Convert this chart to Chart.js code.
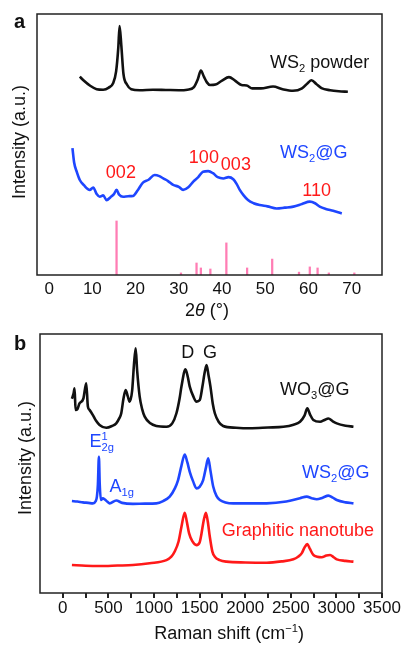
<!DOCTYPE html>
<html>
<head>
<meta charset="utf-8">
<script src="https://cdn.jsdelivr.net/npm/chart.js@4.4.1/dist/chart.umd.min.js"></script>
<style>
  html, body { margin: 0; padding: 0; background: #fff; }
  #wrapA { position: absolute; left: 0; top: 0; width: 404px; height: 322px; }
  #wrapB { position: absolute; left: 0; top: 322px; width: 404px; height: 323px; }
</style>
</head>
<body>
<div id="wrapA"><canvas id="xrdChart" width="404" height="322"></canvas></div>
<div id="wrapB"><canvas id="ramanChart" width="404" height="323"></canvas></div>
<script>
// ---- panel a: XRD ----
const powderAngle = [7.1, 8, 9.5, 11, 12.5, 13.8, 14.8, 15.5, 16, 16.3, 16.7, 17.2, 18, 19, 21, 24, 27, 30, 32, 33.5, 34.4, 35.1, 35.8, 36.5, 37.2, 38.5, 40, 41.6, 43, 44.5, 45.7, 47, 49, 51.8, 54, 56.4, 58.5, 59.8, 60.7, 61.8, 63, 65, 67, 69.1];
const powderInt = [76, 74.5, 72.5, 71.2, 71, 71.8, 73.5, 78, 87, 95.4, 88, 77, 73, 71.2, 70.8, 71, 70.9, 70.8, 71, 72, 75, 78.3, 76, 73.8, 72.8, 73, 74.5, 75.8, 74.5, 72.8, 72.6, 71.5, 71.5, 72.2, 71.2, 70.6, 71.5, 73.5, 74.6, 73.2, 71.6, 70.8, 70.4, 70.2];

const ws2gAngle = [5.4, 5.8, 6.4, 7.1, 8, 9.4, 10.2, 11, 11.7, 12.5, 13.3, 14.2, 15, 15.6, 16.2, 17.1, 18.3, 19.4, 20.5, 21.7, 23, 24.4, 25.5, 26.4, 27.5, 28.7, 30, 31, 32.2, 33.3, 34.5, 35.6, 36.8, 37.9, 39, 40.3, 41.5, 42.6, 43.4, 44.1, 45, 46, 47.3, 48.7, 50.5, 52.6, 54.5, 56.5, 58.5, 60.3, 61.5, 62.6, 64, 65.7, 67.7];
const ws2gInt = [48.6, 43, 39.5, 36.4, 34.5, 32.6, 33.5, 31, 30, 30.5, 28.7, 29.8, 31, 32.6, 30.8, 30, 30.2, 30.3, 32.5, 35.4, 36.5, 38.3, 37.9, 37, 36, 34.5, 33.8, 32.6, 33.6, 35.7, 37.5, 39.6, 39.8, 39, 37.5, 37, 37.5, 36.7, 34.8, 32.6, 30.5, 28.7, 27.5, 26.8, 26.3, 25.5, 25.8, 26.2, 27.2, 28.1, 27.5, 26.2, 25.3, 24.6, 23.6];

// reference pattern sticks
const refAngle = [15.6, 30.5, 34.1, 35.1, 37.3, 41.0, 45.8, 51.6, 57.8, 60.3, 62.1, 64.7, 70.6];
const refInt = [20.7, 0.8, 4.6, 2.7, 2.3, 12.3, 2.7, 6.1, 1.1, 3.1, 2.7, 0.8, 0.8];
const xrdTicks = [0, 10, 20, 30, 40, 50, 60, 70];

// ---- panel b: Raman ----
const wo3Shift = [100, 118, 129, 140, 160, 183, 225, 257, 275, 293, 330, 365, 403, 476, 540, 586, 620, 641, 665, 689, 712, 733, 760, 780, 799, 815, 843, 870, 898, 960, 1026, 1136, 1200, 1246, 1280, 1301, 1345, 1370, 1392, 1430, 1466, 1502, 1530, 1555, 1576, 1598, 1619, 1645, 1667, 1710, 1758, 1900, 2051, 2250, 2418, 2530, 2601, 2650, 2681, 2710, 2747, 2821, 2870, 2912, 2960, 3004, 3100, 3187];
const wo3Int = [75, 77, 79, 70.7, 71, 73.2, 75, 81, 72, 70.7, 68.7, 66.5, 64.9, 63.8, 64.5, 65.5, 67.5, 69.4, 75, 78.4, 76, 73.9, 78, 88, 94.5, 86, 75.8, 71, 68.1, 65.5, 64.5, 64.2, 65.5, 69.4, 75, 79.7, 86.4, 83.5, 79.7, 76, 73.9, 74.5, 79.5, 85, 88, 84, 79.7, 73, 69.4, 66, 64.5, 63.8, 63.6, 63.9, 64.2, 65, 66.1, 68.5, 71.3, 69, 66.8, 66.1, 66.8, 67.4, 66.3, 65.5, 64.6, 64.2];

const ws2Shift = [100, 160, 220, 280, 330, 360, 374, 385, 396, 405, 418, 440, 458, 490, 513, 586, 650, 769, 900, 1026, 1100, 1172, 1230, 1264, 1300, 1337, 1365, 1392, 1430, 1466, 1500, 1539, 1570, 1594, 1620, 1649, 1685, 1722, 1869, 2050, 2235, 2450, 2601, 2675, 2730, 2784, 2850, 2912, 2960, 3004, 3100, 3187];
const ws2Int = [35.5, 35.3, 35, 34.8, 34.6, 35.4, 37.2, 42, 52.6, 42, 35.9, 36.6, 36.2, 35.2, 34.6, 35.7, 34.8, 34.4, 34.5, 34.6, 35.5, 37.2, 40.5, 43.6, 49, 53.5, 50.5, 46.8, 43, 40.4, 41, 43.6, 48.5, 52, 47, 41.1, 37.5, 35.9, 34.6, 34.6, 34.6, 35.3, 36.6, 37.2, 36.6, 36.2, 36.8, 37.6, 36.8, 35.9, 35, 34.6];

const tubeShift = [100, 250, 403, 600, 769, 952, 1136, 1190, 1227, 1270, 1301, 1337, 1360, 1385, 1420, 1466, 1500, 1521, 1545, 1569, 1590, 1612, 1640, 1667, 1720, 1795, 2000, 2235, 2400, 2528, 2580, 2619, 2650, 2681, 2710, 2747, 2790, 2839, 2890, 2931, 2970, 3004, 3100, 3187];
const tubeInt = [10.8, 10.5, 10.4, 10.6, 10.8, 11.5, 12.7, 14, 16, 20, 25.6, 31, 27.5, 23, 20, 18.5, 19.5, 23, 28, 31, 27.5, 21.7, 16, 14, 12.7, 12.1, 11.8, 11.7, 12.2, 13, 14, 15.3, 17.5, 18.9, 17, 14.7, 14, 13.8, 14.5, 14.7, 13.8, 13, 12.4, 12.1];

// major ticks carry labels, minor ones are marks only
const ramanTicks = [0, 250, 500, 750, 1000, 1250, 1500, 1750, 2000, 2250, 2500, 2750, 3000, 3250, 3500];

const BLACK = '#111111';
const BLUE = 'rgb(30,70,255)';
const RED = 'rgb(255,25,25)';
const PINK = 'rgb(255,125,180)';
const FONT = "'Liberation Sans', Arial, sans-serif";

function pairs(xs, ys) {
    return xs.map((x, i) => ({ x: x, y: ys[i] }));
}

// draw text made of pieces: [text, kind] where kind is '', 'sub', 'sup' or 'supstack'
function drawRich(ctx, parts, x, y, size, color, align) {
    const small = size * 0.62;
    let total = 0;
    parts.forEach(([t, k]) => {
        ctx.font = (k ? small : size) + 'px ' + FONT;
        if (k !== 'supstack') total += ctx.measureText(t).width;
    });
    let cx = align === 'center' ? x - total / 2 : x;
    ctx.fillStyle = color;
    ctx.textAlign = 'left';
    ctx.textBaseline = 'middle';
    parts.forEach(([t, k]) => {
        ctx.font = (k ? small : size) + 'px ' + FONT;
        let dy = 0;
        if (k === 'sub') dy = size * 0.32;
        if (k === 'sup' || k === 'supstack') dy = -size * 0.3;
        ctx.fillText(t, cx, y + dy);
        if (k !== 'supstack') cx += ctx.measureText(t).width;
    });
}

const xrdLabels = [
    { parts: [['WS'], ['2', 'sub'], [' powder']], x: 51.1, y: 81.2, color: BLACK, align: 'left' },
    { parts: [['WS'], ['2', 'sub'], ['@G']], x: 53.4, y: 46.7, color: BLUE, align: 'left' },
    { parts: [['002']], x: 16.6, y: 39.1, color: RED, align: 'center' },
    { parts: [['100']], x: 35.8, y: 44.8, color: RED, align: 'center' },
    { parts: [['003']], x: 43.2, y: 42.1, color: RED, align: 'center' },
    { parts: [['110']], x: 61.9, y: 32.2, color: RED, align: 'center' }
];

const ramanLabels = [
    { parts: [['D']], x: 1371, y: 92.7, color: BLACK, align: 'center' },
    { parts: [['G']], x: 1613, y: 92.7, color: BLACK, align: 'center' },
    { parts: [['WO'], ['3', 'sub'], ['@G']], x: 2382, y: 78.4, color: BLACK, align: 'left' },
    { parts: [['E'], ['1', 'supstack'], ['2g', 'sub']], x: 294, y: 58.3, color: BLUE, align: 'left' },
    { parts: [['A'], ['1g', 'sub']], x: 513, y: 40.9, color: BLUE, align: 'left' },
    { parts: [['WS'], ['2', 'sub'], ['@G']], x: 2624, y: 46.3, color: BLUE, align: 'left' },
    { parts: [['Graphitic nanotube']], x: 1744, y: 23.9, color: RED, align: 'left' }
];

// frame, panel letter, y title and peak labels
function drawDecor(chart, letter, yTitlePos, labels) {
    const ctx = chart.ctx;
    const a = chart.chartArea;
    const xs = chart.scales.x, ys = chart.scales.y;
    ctx.save();
    ctx.strokeStyle = '#222';
    ctx.lineWidth = 1.5;
    ctx.strokeRect(a.left, a.top, a.right - a.left, a.bottom - a.top);

    ctx.fillStyle = '#111';
    ctx.font = 'bold 20px ' + FONT;
    ctx.textAlign = 'left';
    ctx.textBaseline = 'alphabetic';
    ctx.fillText(letter, 14, 28);

    ctx.save();
    ctx.translate(yTitlePos.x, yTitlePos.y);
    ctx.rotate(-Math.PI / 2);
    ctx.font = '18px ' + FONT;
    ctx.fillStyle = '#111';
    ctx.textAlign = 'center';
    ctx.textBaseline = 'middle';
    ctx.fillText('Intensity (a.u.)', 0, 0);
    ctx.restore();

    labels.forEach(l => {
        drawRich(ctx, l.parts, xs.getPixelForValue(l.x), ys.getPixelForValue(l.y), 18, l.color, l.align);
    });
    ctx.restore();
}

function hiddenY(width) {
    return {
        min: 0, max: 100,
        ticks: { display: false },
        grid: { display: false },
        border: { display: false },
        afterFit: s => { s.width = width; }
    };
}

// fixed bottom band, and no extra room for overhanging tick labels
function fitX(height) {
    return s => {
        s.height = height;
        s.paddingLeft = 0;
        s.paddingRight = 0;
    };
}

const lineStyle = { pointRadius: 0, borderWidth: 2.6, fill: false, cubicInterpolationMode: 'monotone', order: 1 };

new Chart(document.getElementById('xrdChart'), {
    type: 'line',
    data: {
        datasets: [
            { type: 'bar', data: pairs(refAngle, refInt), backgroundColor: PINK, barThickness: 1.6, order: 2 },
            Object.assign({ data: pairs(powderAngle, powderInt), borderColor: BLACK }, lineStyle),
            Object.assign({ data: pairs(ws2gAngle, ws2gInt), borderColor: BLUE }, lineStyle)
        ]
    },
    options: {
        responsive: false,
        animation: false,
        layout: { padding: { top: 14, right: 22, left: 0, bottom: 0 } },
        plugins: { legend: { display: false }, tooltip: { enabled: false } },
        scales: {
            x: {
                type: 'linear', min: -2.8, max: 77, offset: false,
                afterBuildTicks: s => { s.ticks = xrdTicks.map(v => ({ value: v })); },
                ticks: { autoSkip: false, maxRotation: 0, padding: 4, color: '#111', font: { family: FONT, size: 17 } },
                grid: { display: false, drawTicks: false, offset: false },
                border: { display: false },
                afterFit: fitX(47)
            },
            y: hiddenY(37)
        }
    },
    plugins: [{
        id: 'xrdDecor',
        afterDraw(chart) {
            drawDecor(chart, 'a', { x: 20, y: 142 }, xrdLabels);
            // 2θ (°) with italic theta
            const ctx = chart.ctx;
            ctx.save();
            ctx.fillStyle = '#111';
            ctx.textBaseline = 'middle';
            ctx.textAlign = 'left';
            ctx.font = '18px ' + FONT;
            const w1 = ctx.measureText('2').width;
            ctx.font = 'italic 18px ' + FONT;
            const w2 = ctx.measureText('\u03b8').width;
            ctx.font = '18px ' + FONT;
            const w3 = ctx.measureText(' (\u00b0)').width;
            let x = 207 - (w1 + w2 + w3) / 2;
            const y = 311;
            ctx.fillText('2', x, y); x += w1;
            ctx.font = 'italic 18px ' + FONT;
            ctx.fillText('\u03b8', x, y); x += w2;
            ctx.font = '18px ' + FONT;
            ctx.fillText(' (\u00b0)', x, y);
            ctx.restore();
        }
    }]
});

new Chart(document.getElementById('ramanChart'), {
    type: 'line',
    data: {
        datasets: [
            Object.assign({ data: pairs(wo3Shift, wo3Int), borderColor: BLACK }, lineStyle),
            Object.assign({ data: pairs(ws2Shift, ws2Int), borderColor: BLUE }, lineStyle),
            Object.assign({ data: pairs(tubeShift, tubeInt), borderColor: RED }, lineStyle)
        ]
    },
    options: {
        responsive: false,
        animation: false,
        layout: { padding: { top: 12, right: 22, left: 0, bottom: 0 } },
        plugins: { legend: { display: false }, tooltip: { enabled: false } },
        scales: {
            x: {
                type: 'linear', min: -250, max: 3500,
                afterBuildTicks: s => { s.ticks = ramanTicks.map(v => ({ value: v })); },
                ticks: {
                    autoSkip: false, maxRotation: 0, padding: 5, color: '#111',
                    font: { family: FONT, size: 17 },
                    callback: v => (v % 500 === 0 ? String(v) : '')
                },
                grid: { display: false, drawTicks: false },
                border: { display: false },
                afterFit: fitX(52)
            },
            y: hiddenY(40)
        }
    },
    plugins: [{
        id: 'ramanDecor',
        afterDraw(chart) {
            drawDecor(chart, 'b', { x: 26, y: 136 }, ramanLabels);
            // outward tick marks under the bottom axis, placed by the x scale
            const ctx = chart.ctx, xs = chart.scales.x, a = chart.chartArea;
            ctx.save();
            ctx.fillStyle = '#222';
            ramanTicks.forEach(v => {
                const px = Math.round(xs.getPixelForValue(v));
                ctx.fillRect(px - 1, a.bottom, 2, 5);
            });
            ctx.restore();
            drawRich(ctx, [['Raman shift (cm'], ['\u22121', 'sup'], [')']], 229, 312, 18, '#111', 'center');
        }
    }]
});
</script>
</body>
</html>
